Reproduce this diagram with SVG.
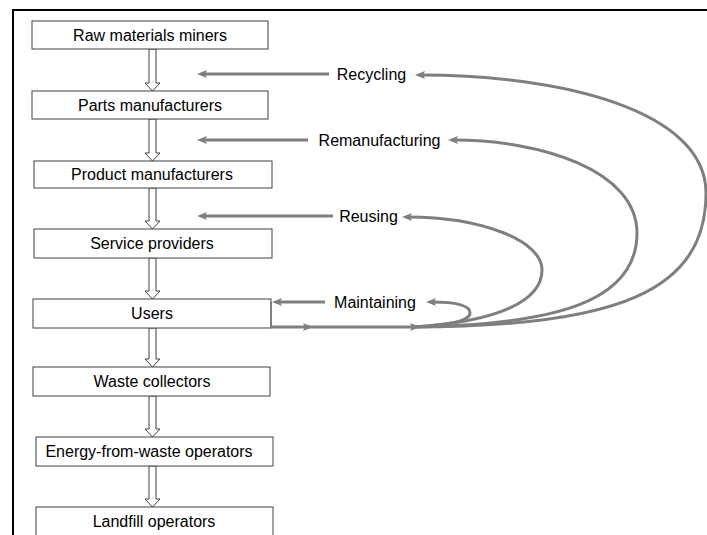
<svg xmlns="http://www.w3.org/2000/svg" width="707" height="535" viewBox="0 0 707 535">
<style>
.box{fill:#fff;stroke:#404040;stroke-width:1}
.blk{fill:#fff;stroke:#404040;stroke-width:1;stroke-linejoin:miter}
.t{font-family:"Liberation Sans",Arial,sans-serif;font-size:16px;fill:#000;text-anchor:middle}
.g{fill:none;stroke:#7f7f7f;stroke-width:3}
.ga{fill:none;stroke:#7f7f7f;stroke-width:3;marker-end:url(#ah)}
</style>
<defs>
<marker id="ah" viewBox="0 0 10 8" markerWidth="10" markerHeight="8" refX="4" refY="4" orient="auto" markerUnits="userSpaceOnUse">
<path d="M0,0 L10,4 L0,8 L2,4 z" fill="#7f7f7f"/>
</marker>
</defs>
<rect x="0" y="0" width="707" height="535" fill="#fff"/>
<path d="M13 535 V10 H707" fill="none" stroke="#000" stroke-width="2"/>

<g id="flow-arrows">
<polygon class="blk" points="149,49 156,49 156,83 160,83 152.5,91 145,83 149,83"/>
<polygon class="blk" points="149,119 156,119 156,153 160,153 152.5,161 145,153 149,153"/>
<polygon class="blk" points="149,188 156,188 156,221 160,221 152.5,229 145,221 149,221"/>
<polygon class="blk" points="149,258 156,258 156,291 160,291 152.5,299 145,291 149,291"/>
<polygon class="blk" points="149,328 156,328 156,359 160,359 152.5,367 145,359 149,359"/>
<polygon class="blk" points="149,396 156,396 156,429 160,429 152.5,437 145,429 149,429"/>
<polygon class="blk" points="149,466 156,466 156,499 160,499 152.5,507 145,499 149,499"/>
</g>

<g id="n-raw"><rect class="box" x="32" y="21" width="236" height="28"/><text class="t" x="150" y="40.5">Raw materials miners</text></g>
<g id="n-parts"><rect class="box" x="32" y="91" width="236" height="28"/><text class="t" x="150" y="110.5">Parts manufacturers</text></g>
<g id="n-product"><rect class="box" x="34" y="161" width="238" height="27"/><text class="t" x="152" y="180">Product manufacturers</text></g>
<g id="n-service"><rect class="box" x="34" y="229" width="238" height="29"/><text class="t" x="152" y="249">Service providers</text></g>
<g id="n-users"><rect class="box" x="33" y="299" width="238" height="29"/><text class="t" x="152" y="319">Users</text></g>
<g id="n-waste"><rect class="box" x="33" y="367" width="237" height="29"/><text class="t" x="152" y="387">Waste collectors</text></g>
<g id="n-energy"><rect class="box" x="36" y="437" width="237" height="29"/><text class="t" x="149" y="457">Energy-from-waste operators</text></g>
<g id="n-landfill"><rect class="box" x="36" y="507" width="237" height="29"/><text class="t" x="154" y="527">Landfill operators</text></g>

<g id="l-recycling"><text class="t" x="371.5" y="79.5">Recycling</text></g>
<g id="l-reman"><text class="t" x="379.5" y="145.5">Remanufacturing</text></g>
<g id="l-reusing"><text class="t" x="368.5" y="221.5">Reusing</text></g>
<g id="l-maintaining"><text class="t" x="375" y="307.5">Maintaining</text></g>

<g id="connectors">
<path class="ga" d="M329 74 H203"/>
<path class="ga" d="M308 140 H203"/>
<path class="ga" d="M333 216 H203"/>
<path class="ga" d="M325 302 H278"/>
<path d="M271 302 V327" fill="none" stroke="#7f7f7f" stroke-width="2"/>
<path class="ga" d="M271 327 H307"/>
<path class="ga" d="M305 327 H414"/>
<path class="ga" d="M412 327 C620 327 706 290 706 193 C706 110 560 75 421 75"/>
<path class="ga" d="M412 327 C560 325 637 300 637 233 C637 170 540 140 454 140"/>
<path class="ga" d="M412 327 C500 322 542 300 542 270 C542 240 480 217 408 217"/>
<path class="ga" d="M412 327 C450 325 470 321 470 313 C470 305 455 302 432 302"/>
</g>
</svg>
